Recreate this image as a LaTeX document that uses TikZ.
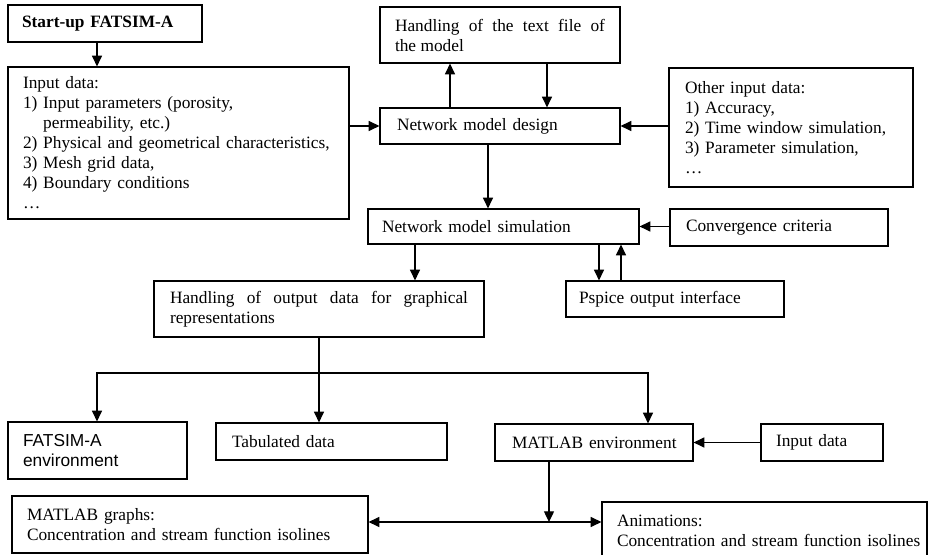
\documentclass[tikz,border=0pt]{standalone}
\usepackage{fontspec}
\setmainfont{Liberation Serif}
\newfontfamily\arialf{Liberation Sans}
\usetikzlibrary{arrows.meta}
\hyphenpenalty=10000
\exhyphenpenalty=10000
\tikzset{
  box/.style={draw, line width=0.9pt, rectangle, inner ysep=0pt, align=left,
    font=\fontsize{13}{15}\selectfont},
  tip/.style={-{Triangle[length=8pt,width=7.5pt]}},
  arr/.style={line width=1pt, tip},
  darr/.style={line width=1pt, {Triangle[length=8pt,width=7.5pt]}-{Triangle[length=8pt,width=7.5pt]}},
}
\newcommand\mybox[8][]{%
  \pgfmathsetmacro\bxw{(#5-#3)*0.75}%
  \pgfmathsetmacro\bxh{(#6-#4)*0.75}%
  \pgfmathsetmacro\bxt{(#5-#3-2*#7)*0.75}%
  \pgfmathsetmacro\bxp{#7*0.75}%
  \node[box,minimum width=\bxw pt,minimum height=\bxh pt,text width=\bxt pt,inner xsep=\bxp pt,#1]
    (#2) at ({(#3+#5)/2},{(#4+#6)/2}) {#8};}
\begin{document}
\begin{tikzpicture}[x=0.75pt,y=-0.75pt]
\clip (0,0) rectangle (928,555);
\useasboundingbox (0,0) rectangle (928,555);
\fill[white] (0,0) rectangle (928,555);

\mybox{start}{8}{5}{202}{42}{14}{\mbox{\textbf{Start-up FATSIM-A}}}
\mybox{inp}{8}{67}{349}{219}{15}{\mbox{Input data:}\\\mbox{1) Input parameters (porosity,}\\\mbox{\phantom{1) }permeability, etc.)}\\\mbox{2) Physical and geometrical characteristics,}\\\mbox{3) Mesh grid data,}\\\mbox{4) Boundary conditions}\\…}
\mybox[align=justify]{htf}{380}{7}{620}{63}{15}{Handling of the text file of\linebreak the model}
\mybox{nmd}{380}{108}{620}{144}{17}{\mbox{Network model design}}
\mybox{oid}{669}{68}{913}{187}{16}{\mbox{Other input data:}\\\mbox{1) Accuracy,}\\\mbox{2) Time window simulation,}\\\mbox{3) Parameter simulation,}\\…}
\mybox{nms}{368}{209}{639}{244}{14}{\mbox{Network model simulation}}
\mybox{conv}{670}{209}{888}{246}{16}{\mbox{Convergence criteria}}
\mybox{pspice}{566}{281}{784}{317}{13}{\mbox{Pspice output interface}}
\mybox[align=justify]{hod}{154}{281}{484}{337}{16}{Handling of output data for graphical\linebreak representations}
\mybox[font=\fontsize{13}{15}\arialf]{fat}{8}{422}{187}{479}{15}{FATSIM-A\\environment}
\mybox{tab}{216}{423}{447}{460}{16}{\mbox{Tabulated data}}
\mybox{menv}{495}{424}{693}{461}{17}{\mbox{MATLAB environment}}
\mybox{indata}{761}{424}{883}{461}{15}{\mbox{Input data}}
\mybox{mg}{12}{496}{368}{553}{15}{\mbox{MATLAB graphs:}\\\mbox{Concentration and stream function isolines}}
\mybox{anim}{602}{502}{927}{560}{15}{\mbox{Animations:}\\\mbox{Concentration and stream function isolines}}

\coordinate (x97) at (97,0);
\coordinate (x319) at (319,0);
\coordinate (x415) at (415,0);
\coordinate (x450) at (450,0);
\coordinate (x488) at (488,0);
\coordinate (x547) at (547,0);
\coordinate (x549) at (549,0);
\coordinate (x599) at (599,0);
\coordinate (x621) at (621,0);
\coordinate (x648) at (648,0);
\coordinate (y522) at (0,522);
\coordinate (j) at (319,373);

\draw[arr] (start.south -| x97) -- (inp.north -| x97);
\draw[arr] (inp.east |- nmd.west) -- (nmd.west);
\draw[arr] (nmd.north -| x450) -- (htf.south -| x450);
\draw[arr] (htf.south -| x547) -- (nmd.north -| x547);
\draw[arr] (nmd.south -| x488) -- (nms.north -| x488);
\draw[arr] (oid.west |- nmd.east) -- (nmd.east);
\draw[arr] (conv.west |- nms.east) -- (nms.east);
\draw[arr] (nms.south -| x415) -- (hod.north -| x415);
\draw[arr] (nms.south -| x599) -- (pspice.north -| x599);
\draw[arr] (pspice.north -| x621) -- (nms.south -| x621);
\draw[arr] (hod.south -| x319) -- (tab.north -| x319);
\draw[arr] (j) -| (fat.north -| x97);
\draw[arr] (j) -| (menv.north -| x648);
\draw[arr] (indata.west) -- (menv.east);
\draw[arr] (menv.south -| x549) -- (y522 -| x549);
\draw[darr] (mg.east |- y522) -- (anim.west |- y522);
\end{tikzpicture}
\end{document}
